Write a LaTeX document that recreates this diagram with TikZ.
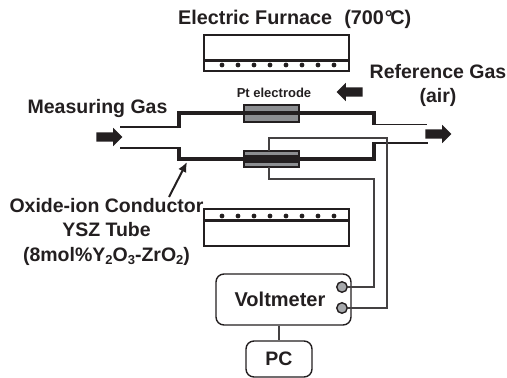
\documentclass[tikz,border=0pt]{standalone}
\usepackage{fontspec}
\setmainfont{Liberation Sans}
\usetikzlibrary{shapes.arrows, arrows.meta}
\definecolor{inkblack}{HTML}{231F20}
\definecolor{ptgray}{HTML}{8C8E91}
\definecolor{termgray}{HTML}{A7A9AC}

\newcommand{\lowsub}[1]{\raisebox{-3.5pt}{\fontsize{13}{13}\selectfont #1}}

\tikzset{
    textlabel/.style={inkblack, font=\fontsize{19.5}{24.5}\selectfont\bfseries, align=center, inner sep=0pt},
    thinline/.style={inkblack, line width=1.4pt},
    tubeline/.style={inkblack, line width=4.4pt, miter limit=10},
    wire/.style={inkblack!85, line width=1.1pt},
    electrode/.style={draw=inkblack, fill=ptgray, line width=1.2pt, minimum width=55pt, inner sep=0pt},
    terminal/.style={circle, draw=inkblack, fill=termgray, line width=1.4pt, minimum size=10.5pt, inner sep=0pt},
    roundbox/.style={draw=inkblack, rounded corners=8pt, line width=1.4pt, inner sep=0pt},
    blockarrow/.style={single arrow, fill=inkblack, inner sep=0pt, text height=4.5pt, text depth=4.5pt,
        minimum height=26pt, single arrow head extend=4.5pt},
}

\begin{document}
\begin{tikzpicture}[x=1pt, y=1pt]
    \useasboundingbox (0,0) rectangle (507,-378);

    % Furnace
    \draw[thinline] (204,-35) rectangle (349,-71);
    \draw[inkblack, line width=3pt] (204,-60) -- (349,-60);
    \draw[thinline] (204,-209) rectangle (349,-246);
    \draw[inkblack, line width=3pt] (204,-220) -- (349,-220);
    \foreach \x in {222,238,254,270,286,302,318,334} {
        \fill[inkblack] (\x,-65) circle (2.4pt);
        \fill[inkblack] (\x,-216) circle (2.4pt);
    }

    % Pt electrodes
    \node[electrode, minimum height=17pt] (upperpt) at (271.5,-113.5) {};
    \node[electrode, minimum height=16pt] (lowerpt) at (271.5,-159) {};

    % Tube
    \draw[thinline] (120,-127) -- (179,-127);
    \draw[thinline] (120,-148) -- (179,-148);
    \draw[tubeline] (179,-128) -- (179,-113) -- (374,-113) -- (374,-125);
    \draw[tubeline] (179,-147) -- (179,-159) -- (374,-159) -- (374,-142);
    \draw[inkblack, line width=7.5pt] (244,-159) -- (299,-159);
    \draw[thinline] (374,-124.5) -- (427,-124.5);
    \draw[thinline] (374,-143) -- (428,-143);

    % Voltmeter and PC
    \node[roundbox, minimum width=135pt, minimum height=51pt, textlabel, font=\fontsize{20}{24}\selectfont\bfseries] (vm) at (283.5,-299.5) {Voltmeter\hspace*{7pt}};
    \node[roundbox, minimum width=66pt, minimum height=36pt, textlabel, font=\fontsize{19.5}{24}\selectfont\bfseries] (pc) at (279,-359) {PC};
    \draw[wire] (vm.south -| pc.north) -- (pc.north);

    % Wires
    \coordinate (wiretop) at (269,-151);
    \coordinate (wirelow) at (269,-167);
    \node[terminal] (termone) at (342,-287) {};
    \node[terminal] (termtwo) at (342,-308) {};
    \draw[wire] (wiretop) |- (387,-138) |- (termtwo);
    \draw[wire] (wirelow) |- (374,-179) |- (termone);

    % Gas arrows
    \node[blockarrow] (gasin) at (107,-137) {};
    \node[blockarrow, shape border rotate=180] (gasref) at (352,-92) {};
    \node[blockarrow] (gasout) at (436,-134) {};

    % Labels
    \node[textlabel, anchor=west, font=\fontsize{19.8}{24}\selectfont\bfseries] (furnace) at (178,-19) {Electric Furnace\ \ \kern1pt(700\kern1pt°\kern-2.5ptC)};
    \node[textlabel, font=\fontsize{13}{15}\selectfont\bfseries] (ptlabel) at (274,-93) {Pt electrode};
    \node[textlabel] (reflabel) at (438,-85.5) {Reference Gas\\(air)};
    \node[textlabel] (measlabel) at (97.5,-108) {Measuring Gas};
    \node[textlabel] (tubelabel) at (106.5,-231.5) {Oxide-ion Conductor\\YSZ Tube\\(8mol\%Y\lowsub{2}O\lowsub{3}-ZrO\lowsub{2})};

    % Pointer to tube
    \coordinate (tubetip) at (187,-162);
    \coordinate (pointerstart) at (169,-197);
    \draw[inkblack, line width=2pt, -{Latex[length=10pt,width=9pt]}] (pointerstart) -- (tubetip);
\end{tikzpicture}
\end{document}
